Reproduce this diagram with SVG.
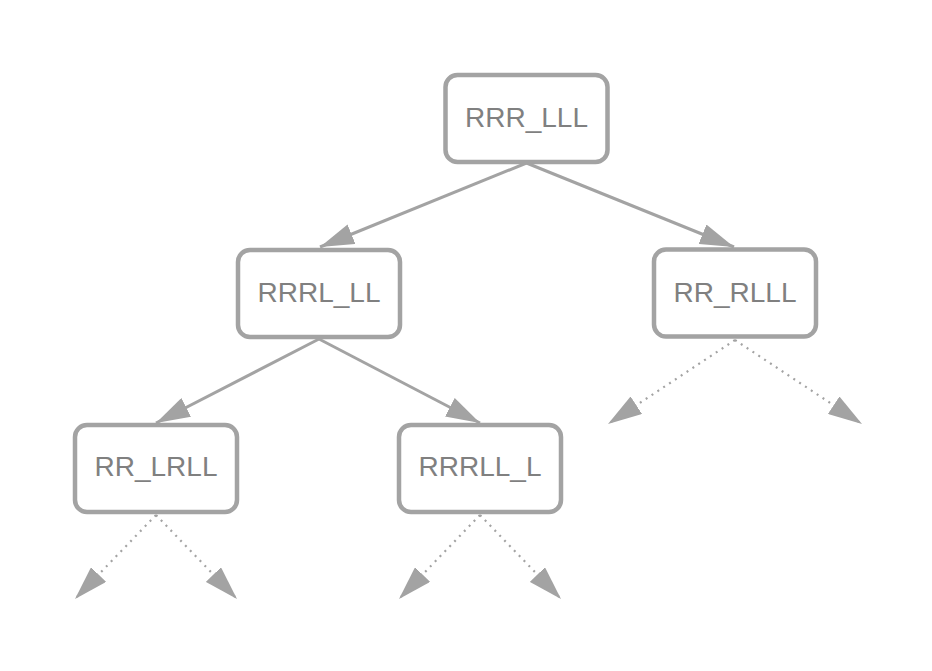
<svg xmlns="http://www.w3.org/2000/svg" width="932" height="671" viewBox="0 0 932 671">
<style>
.box{fill:#ffffff;stroke:#a3a3a3;stroke-width:4.5}
.lbl{font-family:"Liberation Sans",Arial,sans-serif;font-size:28px;fill:#808080;text-anchor:middle}
.edge{stroke:#a3a3a3;stroke-width:3;fill:none;marker-end:url(#arr)}
.dot{stroke:#a3a3a3;stroke-width:2.2;fill:none;stroke-dasharray:2 5;marker-end:url(#arr)}
</style>
<defs>
<marker id="arr" viewBox="0 0 34 21" refX="34" refY="10.5" markerUnits="userSpaceOnUse" markerWidth="34" markerHeight="21" orient="auto">
<path d="M0,0 L34,10.5 L0,21 z" fill="#a3a3a3"/>
</marker>
</defs>
<rect width="932" height="671" fill="#ffffff"/>
<g id="connectors">
<line class="edge" x1="526.5" y1="163" x2="320" y2="247"/>
<line class="edge" x1="526.5" y1="163" x2="734" y2="247"/>
<line class="edge" x1="319" y1="339" x2="156" y2="423"/>
<line class="edge" x1="319" y1="339" x2="480" y2="423"/>
<line class="dot" x1="735" y1="340" x2="608" y2="424"/>
<line class="dot" x1="735" y1="340" x2="862" y2="424"/>
<line class="dot" x1="156" y1="515" x2="75" y2="599"/>
<line class="dot" x1="156" y1="515" x2="237" y2="599"/>
<line class="dot" x1="480" y1="515" x2="399" y2="599"/>
<line class="dot" x1="480" y1="515" x2="561" y2="599"/>
</g>
<g id="node-RRR_LLL">
<rect class="box" x="445.5" y="75" width="162" height="87" rx="12"/>
<text class="lbl" x="526.5" y="126.5">RRR_LLL</text>
</g>
<g id="node-RRRL_LL">
<rect class="box" x="238" y="250" width="162" height="87" rx="12"/>
<text class="lbl" x="319" y="302">RRRL_LL</text>
</g>
<g id="node-RR_RLLL">
<rect class="box" x="654" y="249.5" width="162" height="87" rx="12"/>
<text class="lbl" x="735" y="301.5">RR_RLLL</text>
</g>
<g id="node-RR_LRLL">
<rect class="box" x="75" y="425" width="162" height="87" rx="12"/>
<text class="lbl" x="156" y="476">RR_LRLL</text>
</g>
<g id="node-RRRLL_L">
<rect class="box" x="399" y="425" width="162" height="87" rx="12"/>
<text class="lbl" x="480" y="476">RRRLL_L</text>
</g>
</svg>
